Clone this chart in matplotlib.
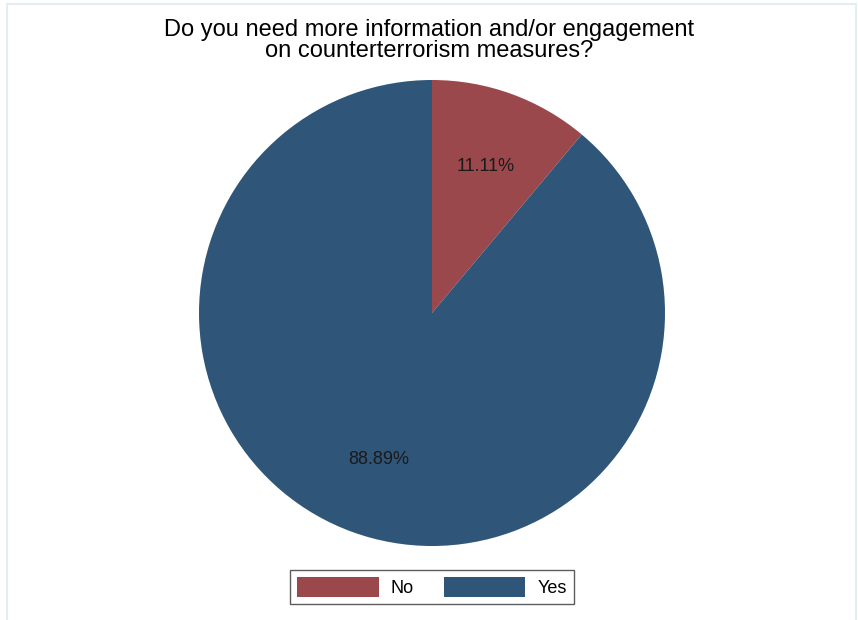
import matplotlib.pyplot as plt
from matplotlib.patches import Rectangle

# Survey answers and their shares (percent)
answers = ['No', 'Yes']
shares = [11.11, 88.89]
colors = ['#9a484c', '#2f5579']

plt.rcParams['font.family'] = ['Liberation Sans', 'DejaVu Sans']

fig = plt.figure(figsize=(8.58, 6.2), dpi=100)
fig.patch.set_facecolor('white')

# faint outer frame around the graph region
fig.patches.append(Rectangle((7 / 858, -0.05), 849 / 858, 1.05 - 4 / 620,
                             transform=fig.transFigure, fill=False,
                             edgecolor='#e4eef0', linewidth=1.5))

fig.text(0.5, 1 - 19 / 620, 'Do you need more information and/or engagement\non counterterrorism measures?',
         ha='center', va='top', fontsize=17, linespacing=0.95)

# pie centred near (432, 313) px with radius ~233 px
r = 233
cx, cy = 432, 313
ax = fig.add_axes([(cx - r) / 858, (620 - cy - r) / 620, 2 * r / 858, 2 * r / 620])
wedges, _, autotexts = ax.pie(shares, colors=colors, startangle=90, counterclock=False,
                              autopct='%1.2f%%', pctdistance=0.67,
                              wedgeprops=dict(linewidth=0),
                              textprops=dict(fontsize=13, color='#1a1a1a'))
ax.set_xlim(-1, 1)
ax.set_ylim(-1, 1)
ax.set_aspect('equal')

leg = fig.legend(wedges, answers, loc='center', bbox_to_anchor=(432 / 858, 1 - 587 / 620),
                 ncol=2, frameon=True, fancybox=False, fontsize=13,
                 handlelength=4.5, handleheight=1.3, columnspacing=1.7,
                 handletextpad=0.65, borderpad=0.4, borderaxespad=0)
leg.get_frame().set_edgecolor('#333333')
leg.get_frame().set_linewidth(1.0)

fig.savefig('out.png', dpi=100)
